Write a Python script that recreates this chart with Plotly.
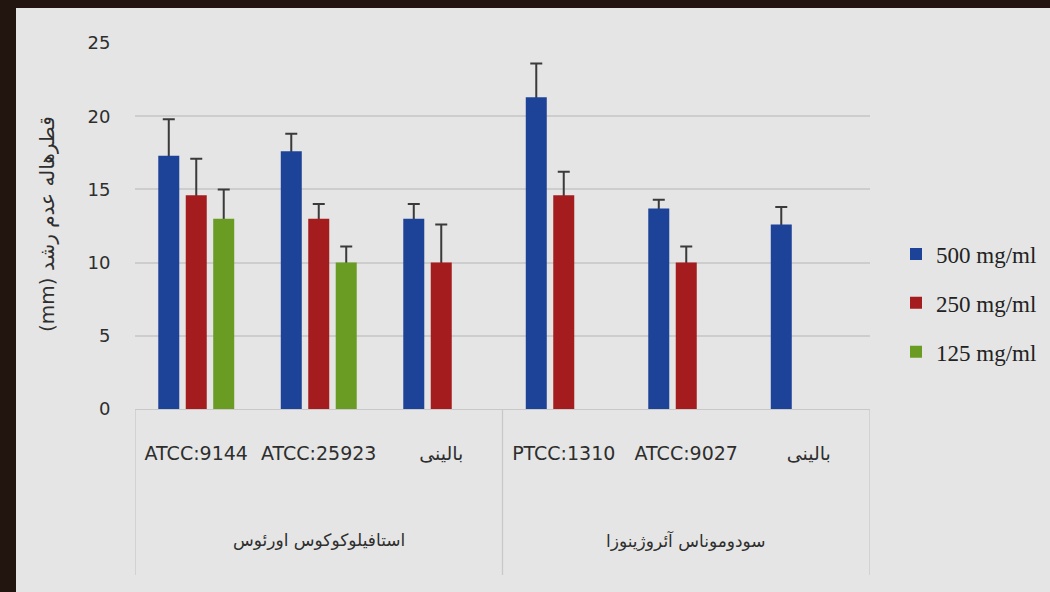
import plotly.graph_objects as go

# Canvas and plot-area geometry (pixels)
W, H = 1050, 592
M_L, M_R, M_T, M_B = 135, 180, 43, 183
PLOT_W = W - M_L - M_R
PLOT_H = H - M_T - M_B


def px_x(px):
    """Horizontal pixel -> paper coordinate."""
    return (px - M_L) / PLOT_W


def px_y(py):
    """Vertical pixel (from top) -> paper coordinate."""
    return (H - M_B - py) / PLOT_H


# ---- data -----------------------------------------------------------------
strains = ["ATCC:9144", "ATCC:25923", "بالینی", "PTCC:1310", "ATCC:9027", "بالینی"]
bacteria = ["استافیلوکوکوس اورئوس", "سودوموناس آئروژینوزا"]
strains_per_group = [3, 3]

series_names = ["500 mg/ml", "250 mg/ml", "125 mg/ml"]
zone_500 = [17.3, 17.6, 13.0, 21.3, 13.7, 12.6]
zone_250 = [14.6, 13.0, 10.0, 14.6, 10.0, None]
zone_125 = [13.0, 10.0, None, None, None, None]
err_500 = [2.5, 1.2, 1.0, 2.3, 0.6, 1.2]
err_250 = [2.5, 1.0, 2.6, 1.6, 1.1, None]
err_125 = [2.0, 1.1, None, None, None, None]

y_ticks = [0, 5, 10, 15, 20, 25]
y_title = "(mm) قطرهاله عدم رشد"

# ---- styling ----------------------------------------------------------------
colors = ["#1d4399", "#a41c1d", "#6a9b22"]
BG = "#e5e5e5"
FRAME = "#22150f"
GRID = "#cdcdcd"
TEXT = "#2e2e2e"
ERR = "#3a3a3a"
LATIN = "DejaVu Sans"
HIDDEN_TAIL = 0.3  # lower part of each whisker, tucked beneath its bar

positions = list(range(len(strains)))
values = [zone_500, zone_250, zone_125]
errors = [err_500, err_250, err_125]

fig = go.Figure()

# Whisker carriers: drawn first so their lower end sits under the bars.
for name, vals, errs in zip(series_names, values, errors):
    fig.add_trace(go.Bar(
        x=positions, y=vals,
        offsetgroup=name, legendgroup=name, showlegend=False,
        marker=dict(color="rgba(0,0,0,0)", line=dict(width=0)),
        hoverinfo="skip",
        error_y=dict(
            type="data", symmetric=False,
            array=errs,
            arrayminus=[HIDDEN_TAIL if e is not None else None for e in errs],
            color=ERR, thickness=2, width=6,
        ),
    ))

# Visible bars
for name, vals, col in zip(series_names, values, colors):
    fig.add_trace(go.Bar(
        x=positions, y=vals, name=name,
        offsetgroup=name, legendgroup=name,
        marker=dict(color=col, line=dict(width=0)),
    ))

# Group dividers and group labels under the strain labels
shapes = []
annotations = []
start = -0.5
for label, n in zip(bacteria, strains_per_group):
    end = start + n
    annotations.append(dict(
        x=(start + end) / 2, xref="x", y=px_y(540), yref="paper",
        text=label, showarrow=False, xanchor="center", yanchor="middle",
        font=dict(family=LATIN, size=17, color=TEXT),
    ))
    start = end

boundaries = [-0.5]
for n in strains_per_group:
    boundaries.append(boundaries[-1] + n)
for b in boundaries:
    shapes.append(dict(
        type="line", xref="x", yref="paper",
        x0=b, x1=b, y0=0, y1=px_y(575),
        line=dict(color="#c8c8c8", width=1.3),
    ))

# Dark frame strips along the left and top edges of the page
shapes.append(dict(type="rect", xref="paper", yref="paper",
                   x0=px_x(0), x1=px_x(16), y0=px_y(H), y1=px_y(0),
                   fillcolor=FRAME, line=dict(width=0)))
shapes.append(dict(type="rect", xref="paper", yref="paper",
                   x0=px_x(0), x1=px_x(W), y0=px_y(8), y1=px_y(0),
                   fillcolor=FRAME, line=dict(width=0)))

# Rotated y-axis title
annotations.append(dict(
    x=px_x(47), xref="paper", y=px_y(224), yref="paper",
    text=y_title, textangle=-90, showarrow=False,
    xanchor="center", yanchor="middle",
    font=dict(family=LATIN, size=20, color=TEXT),
))

fig.update_layout(
    width=W, height=H,
    margin=dict(l=M_L, r=M_R, t=M_T, b=M_B, autoexpand=False),
    paper_bgcolor=BG, plot_bgcolor=BG,
    barmode="group", bargap=0.327, bargroupgap=0.236,
    showlegend=True,
    legend=dict(
        x=px_x(896), xanchor="left", y=px_y(303), yanchor="middle",
        font=dict(family="Liberation Serif", size=23, color="#222222"),
        bgcolor="rgba(0,0,0,0)", traceorder="grouped", tracegroupgap=16,
        itemclick="toggle",
    ),
    xaxis=dict(
        range=[-0.5, len(strains) - 0.5],
        tickmode="array", tickvals=positions, ticktext=strains,
        ticks="outside", ticklen=27, tickcolor="rgba(0,0,0,0)",
        showgrid=False, zeroline=False,
        showline=True, linecolor="#c8c8c8", linewidth=1.3,
        tickfont=dict(family=LATIN, size=19, color=TEXT),
        fixedrange=True,
    ),
    yaxis=dict(
        range=[0, 25], tickmode="array", tickvals=y_ticks,
        showgrid=True, gridcolor=GRID, gridwidth=1.5,
        zeroline=False, showline=False,
        ticks="outside", ticklen=20, tickcolor="rgba(0,0,0,0)",
        tickfont=dict(family=LATIN, size=18, color=TEXT),
        fixedrange=True,
    ),
    shapes=shapes,
    annotations=annotations,
)

fig.write_html("out.html")
